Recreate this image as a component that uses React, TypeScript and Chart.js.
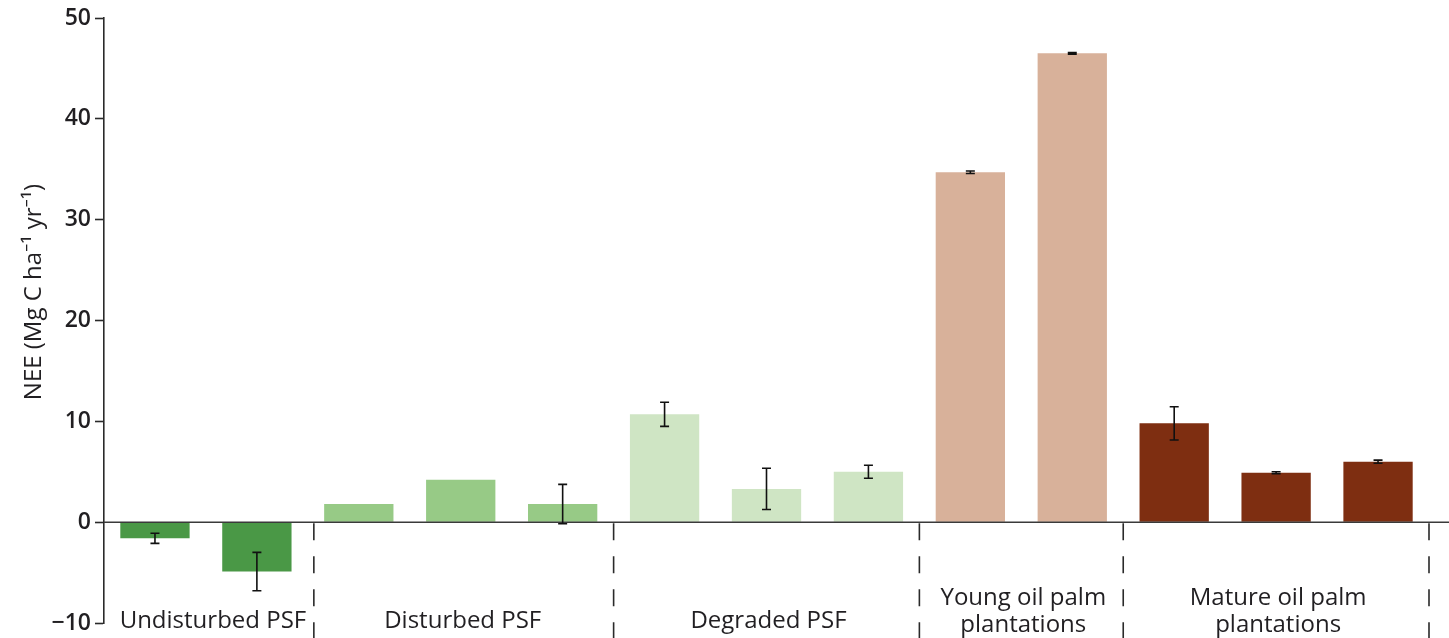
import React, { useEffect, useRef } from "react";
import { Chart, registerables } from "chart.js";

Chart.register(...registerables);

const groupLabels: string[][] = [
  ["Undisturbed PSF"],
  ["Disturbed PSF"],
  ["Degraded PSF"],
  ["Young oil palm", "plantations"],
  ["Mature oil palm", "plantations"],
];
const groupSizes = [2, 3, 3, 2, 3];
const groupColors = ["#4a9846", "#97ca86", "#cfe5c4", "#d8b19a", "#7e2e11"];

const values = [-1.6, -4.9, 1.8, 4.2, 1.8, 10.7, 3.3, 5.0, 34.7, 46.5, 9.8, 4.9, 6.0];
const errors: (number | null)[] = [0.5, 1.9, null, null, 1.95, 1.2, 2.05, 0.65, 0.12, 0.08, 1.65, 0.1, 0.15];

const yMin = -10;
const yMax = 50;
const yStep = 10;
const yTitle = "NEE (Mg C ha\u207B\u00B9 yr\u207B\u00B9)";

const FONT = '"Open Sans", "Noto Sans", sans-serif';
const TEXT = "#211f22";

export default function App() {
  const ref = useRef<HTMLCanvasElement | null>(null);

  useEffect(() => {
    if (!ref.current) return;
    const barColors: string[] = [];
    const labels: string[] = [];
    groupSizes.forEach((n, g) => {
      for (let i = 0; i < n; i++) {
        barColors.push(groupColors[g]);
        labels.push(groupLabels[g].join(" ") + " " + (i + 1));
      }
    });

    const overlay = {
      id: "overlay",
      afterDatasetsDraw(chart: any) {
        const ctx = chart.ctx as CanvasRenderingContext2D;
        const x = chart.scales.x;
        const y = chart.scales.y;
        const area = chart.chartArea;
        const step = x.getPixelForValue(1) - x.getPixelForValue(0);
        const y0 = y.getPixelForValue(0);
        ctx.save();
        // zero line
        ctx.strokeStyle = "#3a3a3a";
        ctx.lineWidth = 1.5;
        ctx.beginPath();
        ctx.moveTo(area.left, y0);
        ctx.lineTo(chart.width, y0);
        ctx.stroke();
        // error bars
        ctx.strokeStyle = "#111";
        ctx.lineWidth = 1.6;
        values.forEach((v, i) => {
          const e = errors[i];
          if (e == null) return;
          const cx = x.getPixelForValue(i);
          const top = y.getPixelForValue(v + e);
          const bot = y.getPixelForValue(v - e);
          ctx.beginPath();
          ctx.moveTo(cx, top);
          ctx.lineTo(cx, bot);
          ctx.moveTo(cx - 4.5, top);
          ctx.lineTo(cx + 4.5, top);
          ctx.moveTo(cx - 4.5, bot);
          ctx.lineTo(cx + 4.5, bot);
          ctx.stroke();
        });
        // separators and group labels
        let start = 0;
        ctx.fillStyle = TEXT;
        ctx.font = `24px ${FONT}`;
        ctx.textAlign = "center";
        ctx.textBaseline = "alphabetic";
        groupSizes.forEach((n, g) => {
          const end = start + n - 1;
          const sepX = x.getPixelForValue(end) + step / 2 + (g === 0 ? 6 : 0);
          ctx.strokeStyle = "#2a2a2a";
          ctx.lineWidth = 1.6;
          ctx.setLineDash([17, 16]);
          ctx.beginPath();
          ctx.moveTo(sepX, y0 + 1);
          ctx.lineTo(sepX, chart.height);
          ctx.stroke();
          ctx.setLineDash([]);
          const cx = (x.getPixelForValue(start) + x.getPixelForValue(end)) / 2 + (g === 0 ? 7 : 2);
          const lines = groupLabels[g];
          if (lines.length === 1) {
            ctx.fillText(lines[0], cx, 628);
          } else {
            ctx.fillText(lines[0], cx, 605);
            ctx.fillText(lines[1], cx, 632);
          }
          start = end + 1;
        });
        // y title
        ctx.save();
        ctx.translate(41, 292);
        ctx.rotate(-Math.PI / 2);
        ctx.font = `24px ${FONT}`;
        ctx.textBaseline = "alphabetic";
        ctx.fillText(yTitle, 0, 0);
        ctx.restore();
        ctx.restore();
      },
    };

    const chart = new Chart(ref.current, {
      type: "bar",
      data: {
        labels,
        datasets: [
          {
            data: values,
            backgroundColor: barColors,
            borderWidth: 0,
            barPercentage: 0.68,
            categoryPercentage: 1,
          },
        ],
      },
      options: {
        animation: false,
        responsive: true,
        maintainAspectRatio: false,
        layout: { padding: { top: 18, bottom: 15, right: 20, left: 0 } },
        plugins: { legend: { display: false }, tooltip: { enabled: false } },
        scales: {
          x: { display: false, grid: { display: false } },
          y: {
            min: yMin,
            max: yMax,
            afterFit: (s: any) => {
              s.width = 104;
              s.paddingTop = 0;
              s.paddingBottom = 0;
            },
            border: { display: true, color: "#2a2a2a", width: 1.6 },
            grid: {
              drawOnChartArea: false,
              drawTicks: true,
              tickLength: 9,
              tickColor: "#2a2a2a",
              tickWidth: 1.6,
            },
            ticks: {
              stepSize: yStep,
              color: TEXT,
              padding: 4,
              font: { family: FONT, size: 23, weight: "600" as any, lineHeight: 1 },
              callback: (v: any) => (Number(v) < 0 ? "\u2212" + Math.abs(Number(v)) : String(v)),
            },
          },
        },
      },
      plugins: [overlay],
    });
    return () => chart.destroy();
  }, []);

  return (
    <div style={{ position: "absolute", left: 0, top: 0, width: 1449, height: 638, background: "#fff" }}>
      <canvas ref={ref} />
    </div>
  );
}
